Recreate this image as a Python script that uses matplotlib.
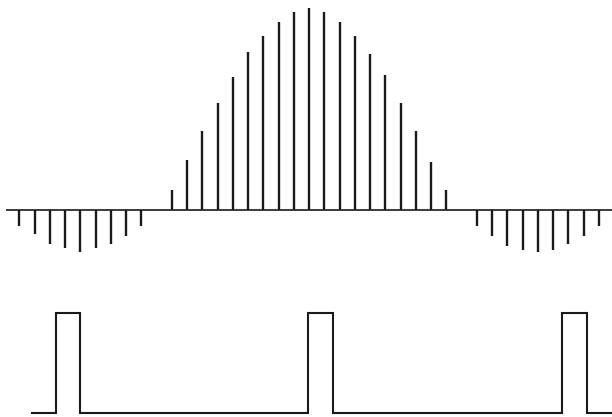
import matplotlib as mpl
mpl.use('Agg')
import matplotlib.pyplot as plt
import numpy as np

# sample index and sampled amplitude (peak = 1)
n_pos = list(range(-9, 10))
amp_pos = [0.10, 0.25, 0.39, 0.53, 0.66, 0.78, 0.86, 0.93, 0.98, 1.00,
           0.98, 0.93, 0.86, 0.77, 0.67, 0.53, 0.39, 0.24, 0.10]
n_left = list(range(-19, -10))
amp_left = [-0.08, -0.12, -0.17, -0.19, -0.21, -0.19, -0.17, -0.13, -0.08]
n_right = list(range(11, 20))
amp_right = [-0.08, -0.13, -0.18, -0.20, -0.21, -0.20, -0.17, -0.13, -0.08]

# sampling pulse train
pulse_starts = [-16.6, -0.05, 16.6]
pulse_width = 1.6
train_start = -18.15

INK = '#1a1a1a'
W, H = 612, 417
X0, DX = 309, 15.25  # centre sample pixel, pixels per sample


def px_to_n(px):
  return (px - X0) / DX


fig = plt.figure(figsize=(W / 100, H / 100), dpi=100)
fig.patch.set_facecolor('white')

# top panel: sampled signal, pixel rows 0..270, baseline at row 210
ax = fig.add_axes([0, (H - 270) / H, 1, 270 / H])
ax.set_xlim(px_to_n(0), px_to_n(W))
ax.set_ylim(-(270 - 210) / 202, 210 / 202)
ax.axis('off')

ax.hlines(0, px_to_n(6), px_to_n(W), color=INK, lw=1.2)
for ns, amps in [(n_left, amp_left), (n_pos, amp_pos), (n_right, amp_right)]:
  ax.vlines(ns, 0, amps, color=INK, lw=1.7)

# bottom panel: pulse train, pixel rows 290..417, low at 412.5, high at 312.5
ax2 = fig.add_axes([0, 0, 1, (H - 290) / H])
ax2.set_xlim(px_to_n(0), px_to_n(W))
ax2.set_ylim(-(H - 412.5) / 100, (412.5 - 290) / 100)
ax2.axis('off')

xs = [train_start]
ys = [0]
for s in pulse_starts:
  xs += [s, s, s + pulse_width, s + pulse_width]
  ys += [0, 1, 1, 0]
xs.append(px_to_n(W))
ys.append(0)
ax2.plot(xs, ys, color=INK, lw=1.5, solid_joinstyle='miter')

plt.savefig('out.png', dpi=100)
plt.close()
